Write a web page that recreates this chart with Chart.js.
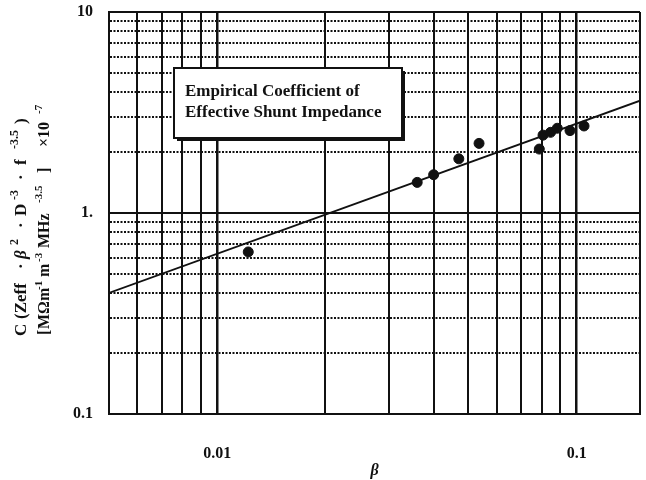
<!DOCTYPE html>
<html><head><meta charset="utf-8">
<script src="https://cdn.jsdelivr.net/npm/chart.js@4.4.0/dist/chart.umd.min.js"></script>
<style>html,body{margin:0;padding:0;background:#fff;}canvas{display:block;}</style>
</head><body>
<canvas id="c" width="646" height="480"></canvas>
<script>
// ---- data ----
const betaValues  = [0.0122, 0.036, 0.040, 0.047, 0.0535, 0.0787, 0.0806, 0.0846, 0.0883, 0.0958, 0.1048];
const coeffValues = [0.64,   1.42,  1.55,  1.86,  2.22,   2.08,   2.44,   2.52,   2.64,   2.57,   2.71];
const fitBeta  = [0.005, 0.15];
const fitCoeff = [0.40, 3.62];
const xGridValues = [0.005, 0.006, 0.007, 0.008, 0.009, 0.01, 0.02, 0.03, 0.04, 0.05, 0.06, 0.07, 0.08, 0.09, 0.1, 0.15];
const yGridValues = [0.1, 0.2, 0.3, 0.4, 0.5, 0.6, 0.7, 0.8, 0.9, 1, 2, 3, 4, 5, 6, 7, 8, 9, 10];
const xLabelValues = [0.01, 0.1];
const xLabelTexts  = ['0.01', '0.1'];
const yLabelValues = [0.1, 1, 10];
const yLabelTexts  = ['0.1', '1.', '10'];
const xTitle = 'β';
const boxLines = ['Empirical Coefficient of', 'Effective Shunt Impedance'];
// y-axis title pieces: [text, kind (n normal / i italic / s superscript), offset along the line in px]
const yTitleLine1 = [['C','n',0], ['(Zeff','n',17], ['·','n',67], ['β','i',77], ['2','s',91], ['·','n',108],
                     ['D','n',120], ['-3','s',136], ['·','n',156], ['f','n',171], ['-3.5','s',187], [')','n',212]];
const yTitleLine2 = [['[','n',0], ['MΩm','n',6], ['-1','s',45], ['m','n',58], ['-3','s',73], ['MHz','n',87],
                     ['-3.5','s',132], [']','n',162], ['×10','n',188], ['-7','s',221]];

const SERIF = '"Liberation Serif", "Times New Roman", serif';
const isDecade = v => Math.abs(Math.log10(v) - Math.round(Math.log10(v))) < 1e-9;
const labelFor = (vals, texts) => v => {
  const i = vals.findIndex(l => Math.abs(l - v) / l < 1e-6);
  return i >= 0 ? texts[i] : '';
};

const pointData = betaValues.map((b, i) => ({x: b, y: coeffValues[i]}));
const fitData = fitBeta.map((b, i) => ({x: b, y: fitCoeff[i]}));

function drawRich(ctx, segs, bx, startY, size) {
  const fonts = {
    n: `bold ${size}px ${SERIF}`,
    i: `italic bold ${size}px ${SERIF}`,
    s: `bold ${Math.round(size * 0.68)}px ${SERIF}`
  };
  ctx.save();
  ctx.translate(bx, startY);
  ctx.rotate(-Math.PI / 2);
  ctx.fillStyle = '#111';
  ctx.textBaseline = 'alphabetic';
  ctx.textAlign = 'left';
  segs.forEach(([t, k, off]) => {
    ctx.font = fonts[k];
    ctx.fillText(t, off, k === 's' ? -size * 0.45 : 0);
  });
  ctx.restore();
}

const decorPlugin = {
  id: 'decor',
  afterDatasetsDraw(chart) {
    const ctx = chart.ctx;
    // caption box with drop shadow
    const L = 174, T = 68, W = 228, H = 70;
    ctx.save();
    ctx.fillStyle = '#111';
    ctx.fillRect(L + 3, T + 3, W, H);
    ctx.fillStyle = '#fff';
    ctx.fillRect(L, T, W, H);
    ctx.lineWidth = 2;
    ctx.strokeStyle = '#111';
    ctx.strokeRect(L, T, W, H);
    ctx.fillStyle = '#111';
    ctx.font = `bold 17px ${SERIF}`;
    ctx.textBaseline = 'alphabetic';
    ctx.textAlign = 'left';
    ctx.fillText(boxLines[0], L + 11, T + 28);
    ctx.fillText(boxLines[1], L + 11, T + 49);
    ctx.restore();
  },
  afterDraw(chart) {
    const ctx = chart.ctx;
    drawRich(ctx, yTitleLine1, 26, 336, 17);
    drawRich(ctx, yTitleLine2, 49, 335, 16);
  }
};

const noPad = s => { s.paddingLeft = 0; s.paddingRight = 0; s.paddingTop = 0; s.paddingBottom = 0; };

new Chart(document.getElementById('c'), {
  type: 'scatter',
  data: {
    datasets: [
      {
        data: fitData, showLine: true, borderColor: '#111', borderWidth: 1.8,
        pointRadius: 0, fill: false, order: 2
      },
      {
        data: pointData, showLine: false, backgroundColor: '#111', borderColor: '#111',
        pointRadius: 5, pointHoverRadius: 5, order: 1
      }
    ]
  },
  options: {
    responsive: false,
    animation: false,
    events: [],
    layout: {padding: {top: 12, right: 5, left: 0, bottom: 0}},
    plugins: {legend: {display: false}, tooltip: {enabled: false}},
    scales: {
      x: {
        type: 'logarithmic',
        min: 0.005, max: 0.15,
        afterBuildTicks: s => { s.ticks = xGridValues.map(v => ({value: v})); },
        afterFit: s => { s.height = 66; noPad(s); },
        grid: {color: '#111', lineWidth: c => (c.tick && isDecade(c.tick.value)) ? 2.5 : 2, drawTicks: false},
        border: {display: true, color: '#111', width: 2},
        ticks: {
          autoSkip: false, maxRotation: 0, padding: 30, color: '#111',
          font: {family: SERIF, size: 16, weight: 'bold'},
          callback: labelFor(xLabelValues, xLabelTexts)
        },
        title: {display: true, text: xTitle, color: '#111', padding: {top: 0, bottom: 0},
                font: {family: SERIF, size: 16, weight: 'bold', style: 'italic'}}
      },
      y: {
        type: 'logarithmic',
        min: 0.1, max: 10,
        afterBuildTicks: s => { s.ticks = yGridValues.map(v => ({value: v})); },
        afterFit: s => { s.width = 109; noPad(s); },
        grid: {color: '#111', lineWidth: 2, drawTicks: false},
        border: {
          display: true, color: '#111', width: 2,
          dash: c => (c.type === 'tick' && c.tick && !isDecade(c.tick.value)) ? [2, 1.5] : []
        },
        ticks: {
          autoSkip: false, padding: 16, color: '#111',
          font: {family: SERIF, size: 16, weight: 'bold'},
          callback: labelFor(yLabelValues, yLabelTexts)
        }
      }
    }
  },
  plugins: [decorPlugin]
});
</script>
</body></html>
